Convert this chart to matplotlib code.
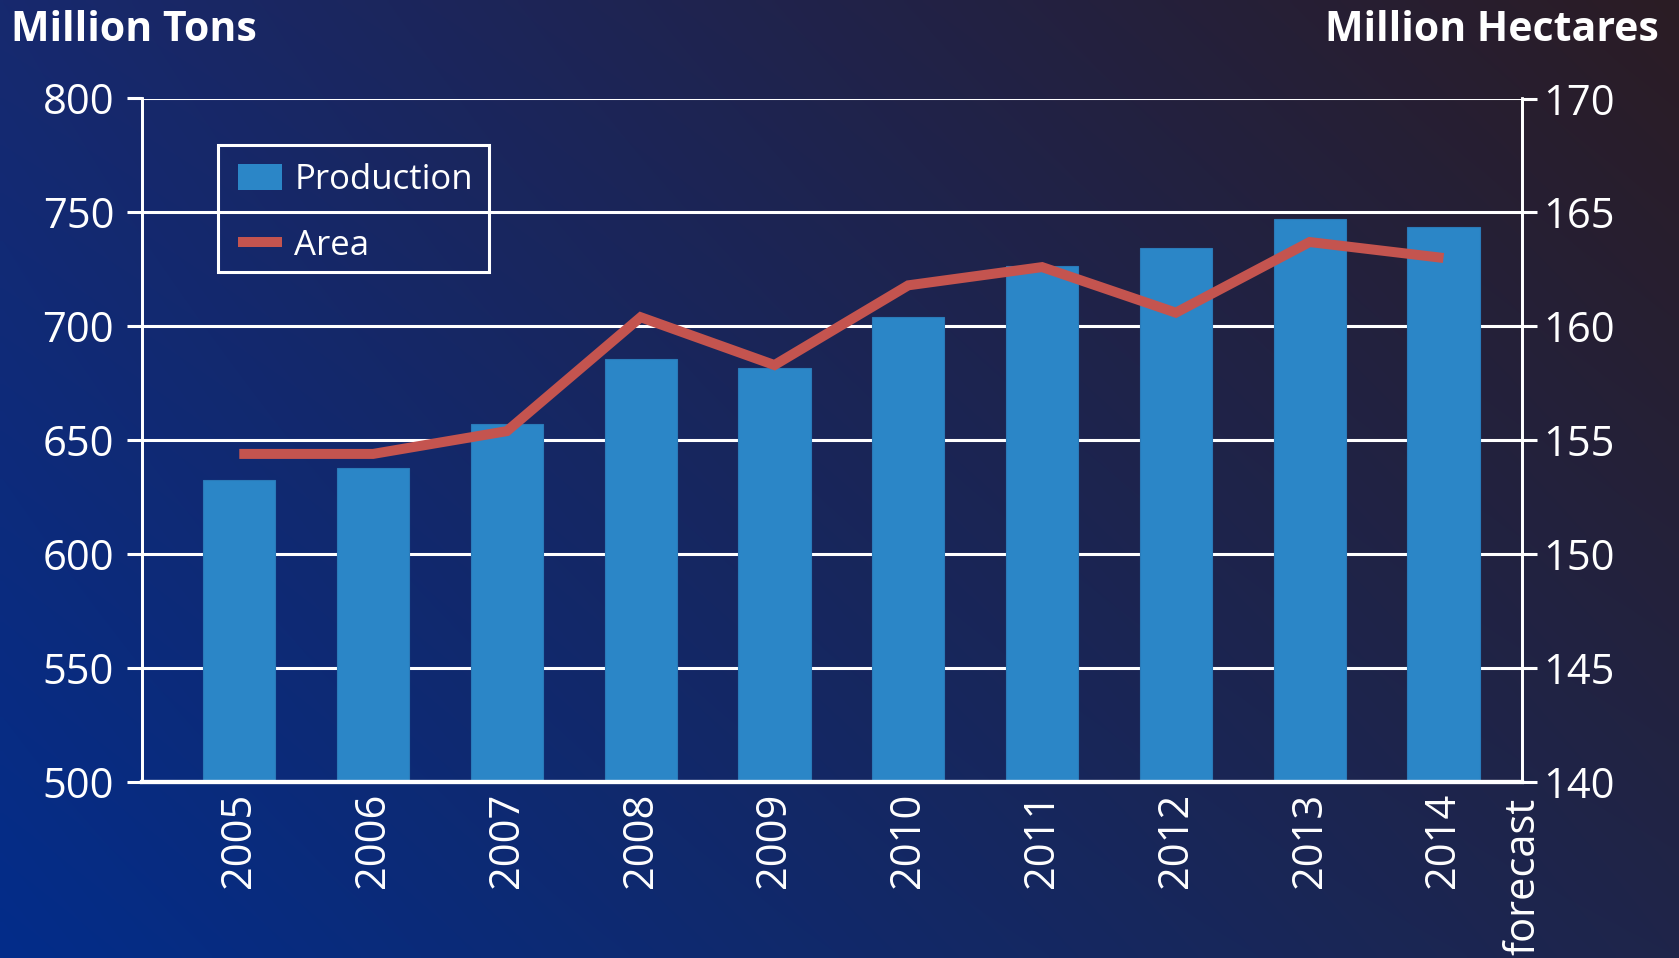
import numpy as np
import matplotlib
matplotlib.use("Agg")
import matplotlib.pyplot as plt
from matplotlib.lines import Line2D
from matplotlib.patches import Patch, Rectangle
from matplotlib.transforms import blended_transform_factory

#chart data
years = ["2005", "2006", "2007", "2008", "2009", "2010", "2011", "2012", "2013", "2014"]
production = [632.5, 638, 657, 685.5, 681.5, 704, 726.5, 734.5, 747, 743.5]  #million tons
area = [154.4, 154.4, 155.4, 160.4, 158.3, 161.8, 162.6, 160.6, 163.7, 163.0]  #million hectares
left_ticks = [500, 550, 600, 650, 700, 750, 800]
right_ticks = [140, 145, 150, 155, 160, 165, 170]

BAR_COLOR = "#2b86c7"
LINE_COLOR = "#c4544f"
WHITE = "#ffffff"

plt.rcParams["font.family"] = ["Open Sans", "DejaVu Sans"]


#diagonal background, blue at bottom left fading to dark at top right
def drawBackground(fig):
    tl = np.array([0x17, 0x29, 0x6e]) / 255
    tr = np.array([0x2b, 0x1c, 0x24]) / 255
    bl = np.array([0x03, 0x2d, 0x8a]) / 255
    br = np.array([0x1f, 0x25, 0x4a]) / 255
    u = np.linspace(0, 1, 300)[None, :, None]
    v = np.linspace(0, 1, 200)[:, None, None]
    img = (1 - v) * ((1 - u) * tl + u * tr) + v * ((1 - u) * bl + u * br)
    bg = fig.add_axes([0, 0, 1, 1], zorder=-10)
    bg.imshow(img, aspect="auto", extent=[0, 1, 0, 1], interpolation="bilinear")
    bg.axis("off")


def main():
    W, H = 1679, 958
    fig = plt.figure(figsize=(W / 100, H / 100), dpi=100)
    drawBackground(fig)

    ax = fig.add_axes([142 / W, 1 - 782 / H, (1522 - 142) / W, (782 - 98.5) / H])
    ax.patch.set_alpha(0)
    ax2 = ax.twinx()
    ax2.patch.set_alpha(0)

    x = np.arange(len(years))
    ax.bar(x, production, width=0.54, color=BAR_COLOR, edgecolor="#2a7ab8",
           linewidth=0.8, zorder=2)
    ax2.plot(x, area, color=LINE_COLOR, linewidth=7.2, solid_joinstyle="miter",
             solid_capstyle="butt", zorder=3)

    ax.set_xlim(-0.727, 9.587)
    ax.set_ylim(500, 800)
    ax2.set_ylim(140, 170)
    ax.set_yticks(left_ticks)
    ax2.set_yticks(right_ticks)
    ax.set_xticks(x)
    ax.set_xticklabels(years, rotation=90)

    #white grid and frame
    ax.set_axisbelow(True)
    ax.yaxis.grid(True, color=WHITE, linewidth=2.2, zorder=0)
    for a in (ax, ax2):
        a.spines["top"].set_visible(False)
        for side in ("left", "right"):
            a.spines[side].set_color(WHITE)
            a.spines[side].set_linewidth(2.0)
        a.spines["bottom"].set_color(WHITE)
        a.spines["bottom"].set_linewidth(3.0)
    ax.tick_params(axis="y", colors=WHITE, length=11, width=2.2, labelsize=30, pad=9)
    ax2.tick_params(axis="y", colors=WHITE, length=11, width=2.2, labelsize=30, pad=4)
    ax.tick_params(axis="x", colors=WHITE, length=0, labelsize=30, pad=8)

    #forecast note under the last year
    trans = blended_transform_factory(ax.transData, ax.transAxes)
    ax.text(9.60, -0.0235, "forecast", transform=trans, rotation=90, ha="center",
            va="top", color=WHITE, fontsize=30)

    #axis titles
    fig.text(11 / W, 1 - 41 / H, "Million Tons", color=WHITE, fontsize=29.5,
             fontweight="bold", va="baseline", ha="left")
    fig.text(1659 / W, 1 - 41 / H, "Million Hectares", color=WHITE, fontsize=29.5,
             fontweight="bold", va="baseline", ha="right")

    #legend with a plain white box around it
    fig.patches.append(Rectangle((218 / W, 1 - 272 / H), (489 - 218) / W, (272 - 145) / H,
                                 transform=fig.transFigure, facecolor="none",
                                 edgecolor=WHITE, linewidth=2.2, zorder=5))
    handles = [Patch(facecolor=BAR_COLOR, edgecolor="none"),
               Line2D([0], [0], color=LINE_COLOR, linewidth=7.2, solid_capstyle="butt")]
    leg = ax2.legend(handles, ["Production", "Area"], loc="upper left",
                     bbox_to_anchor=(238 / W, 1 - 163 / H), bbox_transform=fig.transFigure,
                     fontsize=25, frameon=False, handlelength=1.27,
                     handleheight=0.8, handletextpad=0.35, labelspacing=0.92,
                     borderpad=0, borderaxespad=0)
    for t in leg.get_texts():
        t.set_color(WHITE)

    fig.savefig("out.png", dpi=100)


if __name__ == "__main__":
    main()
